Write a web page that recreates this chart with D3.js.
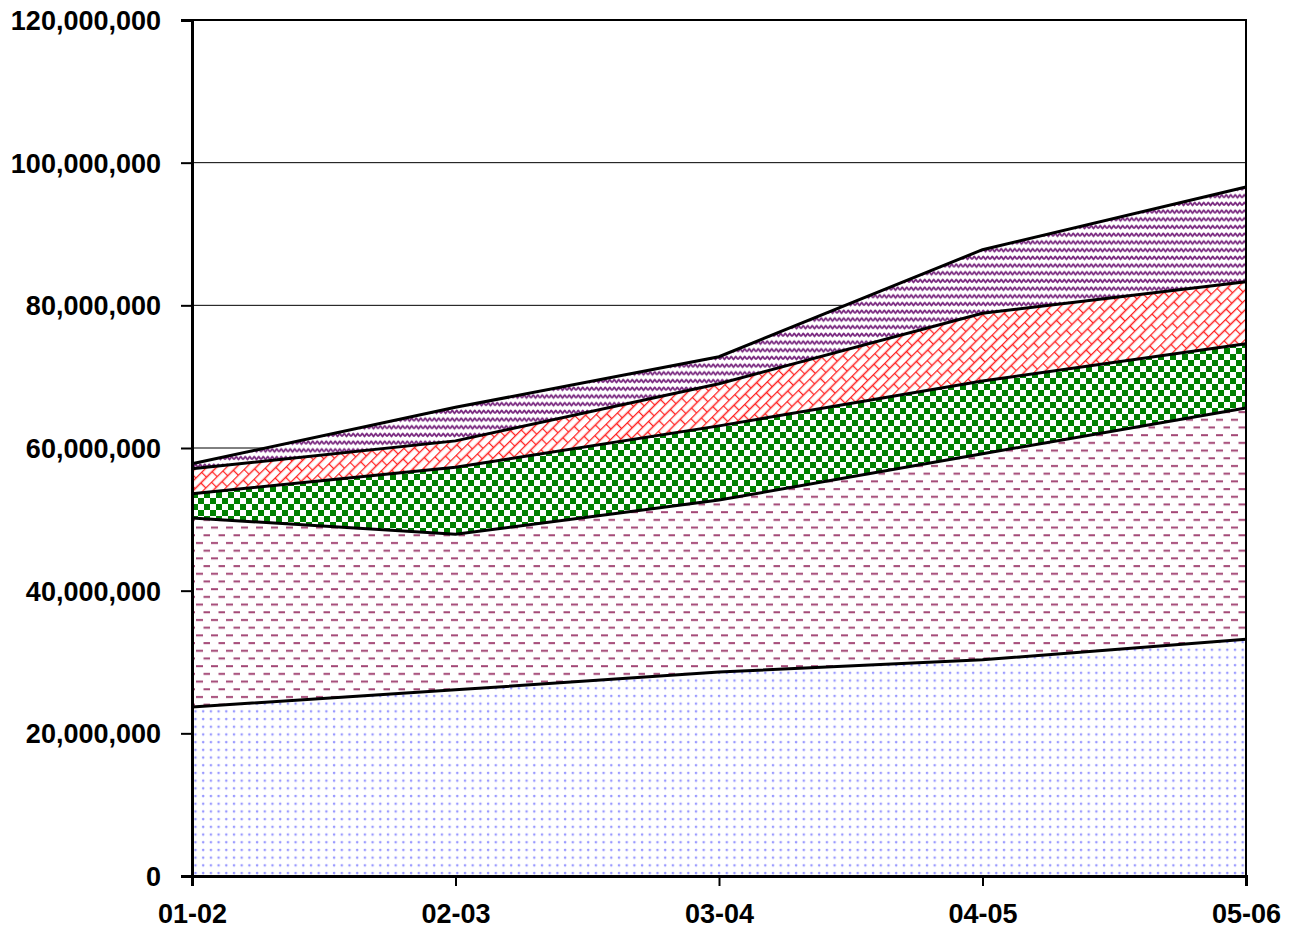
<!DOCTYPE html>
<html><head><meta charset="utf-8">
<script src="https://cdn.jsdelivr.net/npm/d3@7"></script>
<style>body{margin:0;background:#fff}svg{display:block}text{font-family:"Liberation Sans",Arial,sans-serif;font-weight:bold}</style>
</head><body>
<svg id="c" width="1296" height="932"></svg>
<script>
const categories = ["01-02","02-03","03-04","04-05","05-06"];
const seriesNames = ["A","B","C","D","E"];
const seriesA = [23700000, 26100000, 28600000, 30300000, 33200000];
const seriesB = [26500000, 21800000, 24100000, 28900000, 32400000];
const seriesC = [3400000, 9400000, 10400000, 10200000, 9000000];
const seriesD = [3500000, 3700000, 5900000, 9500000, 8700000];
const seriesE = [700000, 4700000, 3800000, 8900000, 13300000];
const yTicks = [0,20000000,40000000,60000000,80000000,100000000,120000000];

const svg = d3.select("#c");
const L=192, R=1246, T=20, B=876;
const x = d3.scalePoint().domain(categories).range([L,R]);
const y = d3.scaleLinear().domain([0,120000000]).range([B,T]);

const defs = svg.append("defs");
function pat(id,w,h,tr){const q=defs.append("pattern").attr("id",id).attr("patternUnits","userSpaceOnUse").attr("width",w).attr("height",h);if(tr)q.attr("patternTransform",tr);q.append("rect").attr("width",w).attr("height",h).attr("fill","#fff");return q;}
// dots
let p = pat("pDots",7.7,7.7);
p.append("circle").attr("cx",3).attr("cy",3).attr("r",1.3).attr("fill","#8080ff").attr("opacity",0.8);
// dashes
p = pat("pDash",15,15.4);
p.append("rect").attr("x",1).attr("y",3).attr("width",7).attr("height",2).attr("fill","#993366").attr("opacity",0.9);
p.append("rect").attr("x",8.5).attr("y",10.7).attr("width",7).attr("height",2).attr("fill","#993366").attr("opacity",0.9);
// checker
p = pat("pCheck",12,12);
p.append("rect").attr("x",0).attr("y",0).attr("width",6).attr("height",6).attr("fill","#008000");
p.append("rect").attr("x",6).attr("y",6).attr("width",6).attr("height",6).attr("fill","#008000");
// brick diagonal
p = pat("pBrick",16,14,"rotate(-45)");
p.append("path").attr("d","M0,0.5H16M0,7.5H16M0.5,0.5V7.5M8.5,7.5V14").attr("stroke","#ff2020").attr("stroke-width",1.3).attr("fill","none");
// wave
p = pat("pWave",9,7.7);
p.append("path").attr("d","M0,5.3 L2.25,2.3 L4.5,5.3 L6.75,2.3 L9,5.3").attr("stroke","#7a2a80").attr("stroke-width",1.8).attr("stroke-linejoin","round").attr("fill","none");

const fills = ["url(#pDots)","url(#pDash)","url(#pCheck)","url(#pBrick)","url(#pWave)"];
const allSeries = [seriesA,seriesB,seriesC,seriesD,seriesE];
const rows = categories.map((c,i)=>{const o={cat:c}; seriesNames.forEach((n,k)=>o[n]=allSeries[k][i]); return o;});
const stacked = d3.stack().keys(seriesNames)(rows);

// gridlines
svg.append("g").selectAll("line").data(yTicks.filter(t=>t>0)).join("line")
  .attr("x1",L).attr("x2",R).attr("y1",d=>y(d)).attr("y2",d=>y(d)).attr("stroke","#000").attr("stroke-width",1);

const area = d3.area().x(d=>x(d.data.cat)).y0(d=>y(d[0])).y1(d=>y(d[1]));
svg.append("g").selectAll("path").data(stacked).join("path")
  .attr("d",area).attr("fill",(d,i)=>fills[i]);
const line = d3.line().x(d=>x(d.data.cat)).y(d=>y(d[1]));
svg.append("g").selectAll("path").data(stacked).join("path")
  .attr("d",line).attr("fill","none").attr("stroke","#000").attr("stroke-width",3);

// frame
svg.append("path").attr("d",`M${L},${T}H${R}V${B}`).attr("fill","none").attr("stroke","#000").attr("stroke-width",2);

const yAxis = svg.append("g").attr("transform",`translate(${L},0)`)
  .call(d3.axisLeft(y).tickValues(yTicks).tickFormat(d3.format(",")).tickSize(11).tickPadding(20));
yAxis.select(".domain").attr("stroke-width",3);
yAxis.selectAll(".tick line").attr("stroke-width",2);
yAxis.selectAll("text").attr("font-size",27).attr("dy","0.35em");

const xAxis = svg.append("g").attr("transform",`translate(0,${B})`)
  .call(d3.axisBottom(x).tickSize(10).tickPadding(18));
xAxis.select(".domain").attr("stroke-width",3);
xAxis.selectAll(".tick line").attr("stroke-width",2);
xAxis.selectAll("text").attr("font-size",27);
svg.selectAll(".tick text").attr("fill","#000").attr("font-family","Liberation Sans, Arial, sans-serif").attr("font-weight","bold");
</script>
</body></html>
